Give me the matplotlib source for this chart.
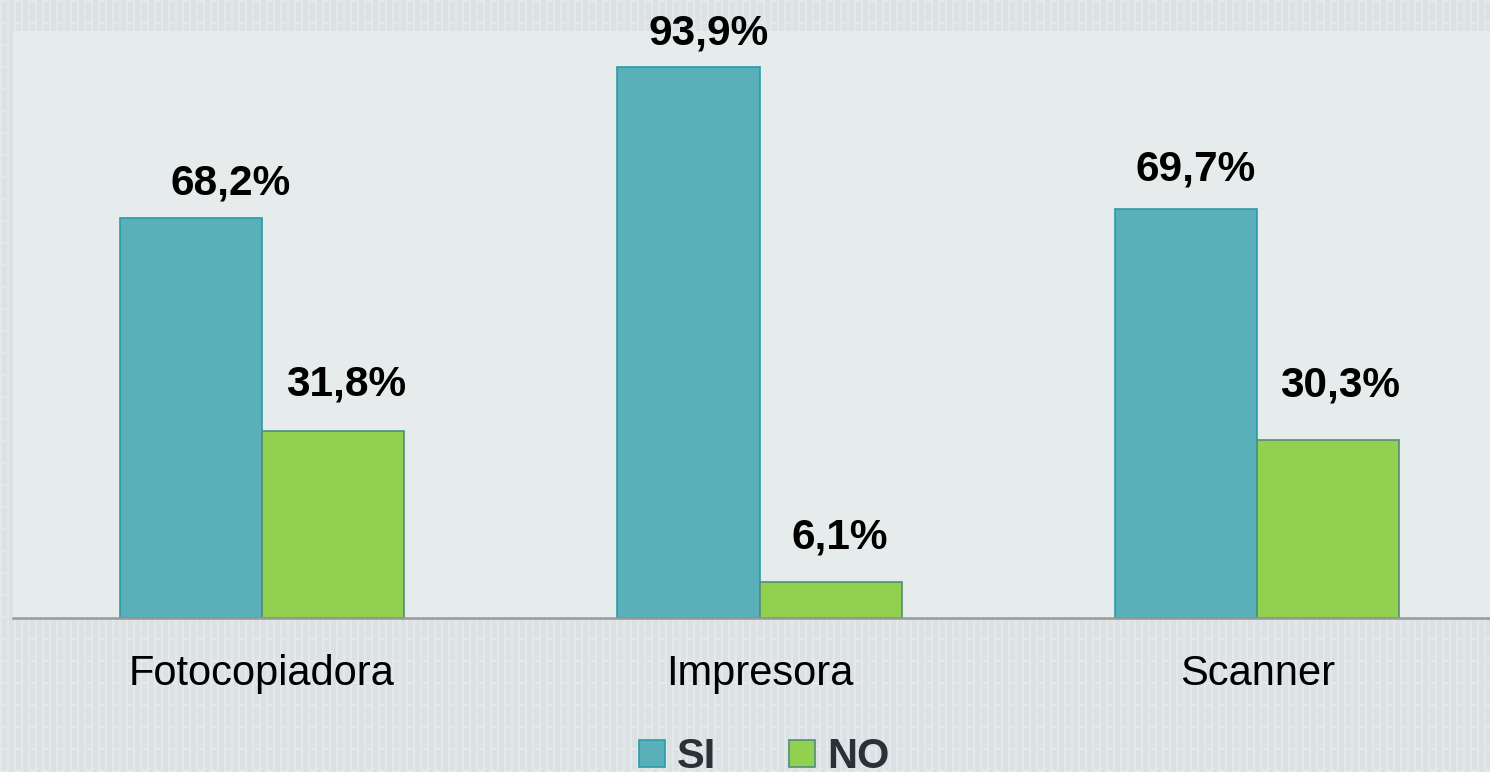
import matplotlib.pyplot as plt
import numpy as np

plt.rcParams['font.family'] = ['Liberation Sans', 'DejaVu Sans']

categories = ['Fotocopiadora', 'Impresora', 'Scanner']
si_values = [68.2, 93.9, 69.7]
no_values = [31.8, 6.1, 30.3]
series_names = ['SI', 'NO']

fig = plt.figure(figsize=(14.9, 7.72), dpi=100, facecolor='#dce2e4')

# faint striped texture for the slide background
h, w = 772, 1490
tex = np.zeros((h, w, 3))
tex[:] = np.array([220, 226, 228]) / 255
cols = np.arange(w) % 7 < 2
tex[:, cols] = np.array([227, 232, 234]) / 255
rows = (np.arange(h) % 22) < 2
for c in range(0, w, 14):
    tex[rows, c:c + 7] = np.array([228, 233, 235]) / 255
fig.figimage(tex, 0, 0, zorder=-10)

ax = fig.add_axes([13 / 1490, 1 - 618 / 772, 1493 / 1490, 587 / 772])
ax.set_zorder(1)
ax.set_facecolor('#e6ebeb')

x = np.arange(len(categories))
width = 0.286
bars_si = ax.bar(x - width / 2, si_values, width, color='#5ab0b9',
                 edgecolor='#2b9aab', linewidth=1.2, label=series_names[0])
bars_no = ax.bar(x + width / 2, no_values, width, color='#92d050',
                 edgecolor='#4f8f7c', linewidth=1.2, label=series_names[1])

# labels were nudged by hand in the original, offsets in points
si_offsets = [(28.8, 16.6), (14.4, 15.8), (7.2, 20.2)]
no_offsets = [(9.4, 25.9), (6.5, 24.5), (8.6, 31.7)]

for bars, offsets in ((bars_si, si_offsets), (bars_no, no_offsets)):
    for bar, off in zip(bars, offsets):
        height = bar.get_height()
        ax.annotate(f'{height:.1f}%'.replace('.', ','),
                    (bar.get_x() + bar.get_width() / 2, height),
                    xytext=off, textcoords='offset points',
                    ha='center', va='baseline', fontsize=30.5,
                    fontweight='bold', color='black')

ax.set_xlim(-0.5, 2.5)
ax.set_ylim(0, 100)
ax.set_xticks(x)
ax.set_xticklabels(categories, fontsize=30)
ax.tick_params(axis='x', length=0, pad=26)
ax.set_yticks([])
for side in ('top', 'right', 'left'):
    ax.spines[side].set_visible(False)
ax.spines['bottom'].set_color('#999999')
ax.spines['bottom'].set_linewidth(1.8)

leg = fig.legend(loc='lower center', bbox_to_anchor=(0.513, -0.055), ncol=2,
                 frameon=False, prop={'size': 30, 'weight': 'bold'},
                 handlelength=0.62, handleheight=0.62, handletextpad=0.3,
                 columnspacing=1.75)
leg.set_zorder(2)
for t in leg.get_texts():
    t.set_color('#2b3136')

plt.savefig('out.png', dpi=100, facecolor=fig.get_facecolor())
